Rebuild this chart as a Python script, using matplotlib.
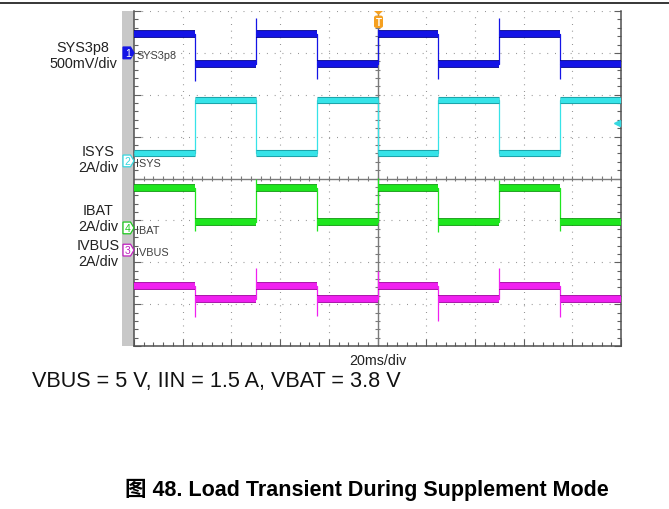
import numpy as np
import matplotlib
matplotlib.use("Agg")
import matplotlib.pyplot as plt
from matplotlib.patches import Polygon, Rectangle, FancyBboxPatch
from matplotlib.lines import Line2D

W, H = 669, 510

# time base: 20 ms/div, 10 div on screen, trigger at 0
t_start, t_end = -100, 100
edges_ms = [-75, -50, -25, 0, 25, 50, 75]

# trace levels in screen divisions (0 = bottom, 8 = top)
sys_high, sys_low = 7.45, 6.73
isys_high, isys_low = 5.87, 4.61
ibat_high, ibat_low = 3.77, 2.95
ivbus_high, ivbus_low = 1.44, 1.12

# extreme value reached at each edge (overshoot / undershoot)
sys_spikes = [6.33, 7.83, 6.37, 7.57, 6.37, 7.83, 6.37]
ibat_spikes = [2.75, 3.99, 2.75, 4.01, 2.72, 3.96, 2.75]
ivbus_spikes = [0.69, 1.86, 0.72, 1.79, 0.60, 1.86, 0.69]

# channel reference markers (div)
sys_ref, isys_ref, ibat_ref, ivbus_ref = 7.0, 4.42, 2.82, 2.29
isys_trig = 5.33

plt.rcParams['font.family'] = ['Liberation Sans', 'DejaVu Sans']

MS_PER_PX = 20 / 48.7


def px(x, y):
    return x / W, 1 - y / H


def draw_trace(ax, high, low, first_high, spikes, color, dark, band):
    bounds = [t_start] + edges_ms + [t_end]
    levels = []
    state = first_high
    for i in range(len(bounds) - 1):
        levels.append(high if state else low)
        state = not state
    ax.step(bounds, levels + [levels[-1]], where='post', color=color, lw=0.9, zorder=4)
    ax.hlines(levels, bounds[:-1], bounds[1:], color=dark, lw=band + 1.3, zorder=4)
    ax.hlines(levels, bounds[:-1], bounds[1:], color=color, lw=band, zorder=5)
    if spikes:
        ax.vlines(edges_ms, levels[1:], spikes, color=color, lw=0.9, zorder=5)


def draw_tag(ax, y, num, color, filled):
    x0, x1, x2 = t_start - 11 * MS_PER_PX, t_start - 3.5 * MS_PER_PX, t_start
    dy = 0.14
    poly = Polygon([(x0, y - dy), (x1, y - dy), (x2, y), (x1, y + dy), (x0, y + dy)],
                   closed=True, facecolor=color if filled else 'white',
                   edgecolor=color, lw=0.9, clip_on=False, zorder=8)
    ax.add_patch(poly)
    ax.text((x0 + x1) / 2 + 0.4, y, num, color='white' if filled else color,
            fontsize=7.5, ha='center', va='center', clip_on=False, zorder=9)


fig = plt.figure(figsize=(W / 100, H / 100), dpi=100)

# rule at the top of the page
fig.lines.append(Line2D([0, 1], [1 - 4 / H] * 2, transform=fig.transFigure,
                        color='black', lw=1.1))

l, b = px(134, 347)
ax = fig.add_axes([l, b, 487 / W, 335 / H])
ax.set_xlim(t_start, t_end)
ax.set_ylim(0, 8)

# gray side strip of the scope screen
ax.add_patch(Rectangle((t_start - 12 * MS_PER_PX, 0), 12 * MS_PER_PX, 8, facecolor='#c8c8c8',
                       edgecolor='none', clip_on=False, zorder=0))

# dotted graticule
for xv in range(-80, 100, 20):
    if xv != 0:
        ax.axvline(xv, color='#8a8a8a', lw=0.8, dashes=(0.8, 5.23), zorder=1)
for yv in [1, 2, 3, 5, 6, 7, 8]:
    ax.axhline(yv, color='#8a8a8a', lw=0.8, dashes=(0.8, 6.21), zorder=1)
ax.axvline(0, color='#7a7a7a', lw=1.0, zorder=2)
ax.axhline(4, color='#7a7a7a', lw=1.0, zorder=2)
ax.vlines(np.arange(-96, 100, 4), 3.94, 4.06, color='#7a7a7a', lw=0.8, zorder=2)
ax.hlines(np.arange(0.2, 8, 0.2), -1.2, 1.2, color='#7a7a7a', lw=0.8, zorder=2)

ax.set_xticks(np.arange(-100, 101, 20))
ax.set_xticks(np.arange(-100, 101, 4), minor=True)
ax.set_yticks(np.arange(0, 9, 1))
ax.set_yticks(np.arange(0, 8.01, 0.2), minor=True)
ax.tick_params(which='both', direction='in', left=True, right=True, bottom=True, top=False,
               labelleft=False, labelbottom=False, color='#606060')
ax.tick_params(which='major', length=5, width=0.8)
ax.tick_params(which='minor', length=3, width=0.8)
ax.spines['top'].set_visible(False)
for s in ['left', 'right', 'bottom']:
    ax.spines[s].set_color('#505050')
    ax.spines[s].set_linewidth(1.1)

draw_trace(ax, sys_high, sys_low, True, sys_spikes, '#1414e6', '#000090', 4.3)
draw_trace(ax, isys_high, isys_low, False, None, '#36e3e8', '#1a9aa0', 3.8)
draw_trace(ax, ibat_high, ibat_low, True, ibat_spikes, '#1ee61e', '#0c9c0c', 4.3)
draw_trace(ax, ivbus_high, ivbus_low, True, ivbus_spikes, '#f020f0', '#a000a0', 4.3)

draw_tag(ax, sys_ref, '1', '#1414e6', True)
draw_tag(ax, isys_ref, '2', '#36d8e0', False)
draw_tag(ax, ibat_ref, '4', '#1ec81e', False)
draw_tag(ax, ivbus_ref, '3', '#c020c0', False)

narrow = ['Liberation Sans Narrow', 'Liberation Sans']
for yv, name in [(sys_ref, 'SYS3p8'), (isys_ref, 'ISYS'), (ibat_ref, 'IBAT'), (ivbus_ref, 'IVBUS')]:
    ax.text(t_start + 1.0, yv - 0.05, name, family=narrow, fontsize=7.8, color='#404040',
            ha='left', va='center', zorder=9)

ax.plot([98.2], [isys_trig], marker='<', ms=4, color='#36d8e0', clip_on=False, zorder=9)

# trigger flag
tx = 378.5
fig.patches.append(Polygon([px(tx - 4.5, 12), px(tx + 4.5, 12), px(tx, 16)], closed=True,
                           transform=fig.transFigure, facecolor='#f5a020', edgecolor='none'))
x, y = px(tx - 4.5, 29)
fig.patches.append(FancyBboxPatch((x, y), 9 / W, 12.5 / H, boxstyle='round,pad=0,rounding_size=0.004',
                                  transform=fig.transFigure, facecolor='#f5a020', edgecolor='none'))
fig.text(*px(tx, 23), 'T', color='white', fontsize=7, fontweight='bold', ha='center', va='center')

# channel scale labels
fig.text(*px(83, 56), 'SYS3p8\n500mV/div', fontsize=10.4, ha='center', va='center',
         linespacing=1.1, color='#222222')
fig.text(*px(98, 160), 'ISYS\n2A/div', fontsize=10.4, ha='center', va='center',
         linespacing=1.1, color='#222222')
fig.text(*px(98, 219), 'IBAT\n2A/div', fontsize=10.4, ha='center', va='center',
         linespacing=1.1, color='#222222')
fig.text(*px(98, 254), 'IVBUS\n2A/div', fontsize=10.4, ha='center', va='center',
         linespacing=1.1, color='#222222')

fig.text(*px(378, 361), '20ms/div', fontsize=10.3, ha='center', va='center', color='#222222')
fig.text(*px(32, 382), 'VBUS = 5 V, IIN = 1.5 A, VBAT = 3.8 V', fontsize=15.6,
         ha='left', va='center', color='#111111')
fig.text(*px(125, 490), '图 48. Load Transient During Supplement Mode', fontsize=15.5,
         fontweight='bold', family=['Liberation Sans', 'Noto Sans CJK SC'],
         ha='left', va='center', color='black')

fig.savefig('out.png', dpi=100)
